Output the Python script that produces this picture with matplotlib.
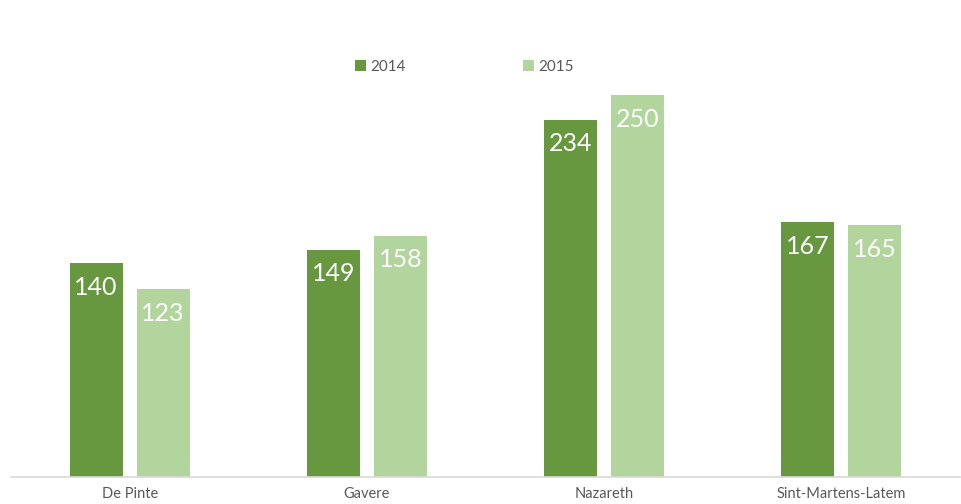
import matplotlib.pyplot as plt
import numpy as np

plt.rcParams['font.family'] = ['Lato', 'DejaVu Sans']

categories = ['De Pinte', 'Gavere', 'Nazareth', 'Sint-Martens-Latem']
series_names = ['2014', '2015']
values_2014 = [140, 149, 234, 167]
values_2015 = [123, 158, 250, 165]

dark = '#67973f'
light = '#b1d59c'

fig = plt.figure(figsize=(9.62, 5.04), dpi=100)
ax = fig.add_axes([11 / 962, 27 / 504, 949 / 962, 458 / 504])

x = np.arange(len(categories))
w = 0.223
off = 0.141
b1 = ax.bar(x - off, values_2014, w, color=dark, label=series_names[0])
b2 = ax.bar(x + off, values_2015, w, color=light, label=series_names[1])

for bars in (b1, b2):
    for b in bars:
        ax.annotate(str(int(b.get_height())), (b.get_x() + b.get_width() / 2, b.get_height()),
                    xytext=(0, -9), textcoords='offset points', ha='center', va='top',
                    color='white', fontsize=18)

ax.set_xlim(-0.5, len(categories) - 0.5)
ax.set_ylim(0, 300)
ax.set_yticks([])
ax.set_xticks(x)
ax.set_xticklabels(categories, fontsize=10.5, color='#595959')
ax.tick_params(axis='x', length=0, pad=7)
for s in ['top', 'right', 'left']:
    ax.spines[s].set_visible(False)
ax.spines['bottom'].set_color('#d9d9d9')
ax.spines['bottom'].set_linewidth(1.2)

leg = fig.legend(handles=[b1, b2], labels=series_names, loc='center', bbox_to_anchor=(0.483, 0.868),
                 ncol=2, frameon=False, fontsize=11, handlelength=0.7, handleheight=0.7,
                 handletextpad=0.3, columnspacing=7.7)
for t in leg.get_texts():
    t.set_color('#595959')

fig.savefig('out.png', dpi=100)
